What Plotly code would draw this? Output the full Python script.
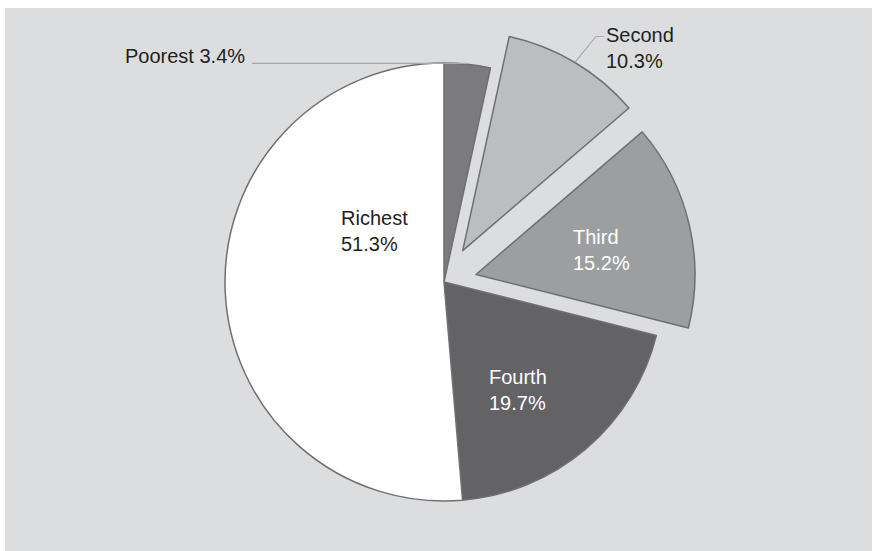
import math
import plotly.graph_objects as go

# Share of total by wealth quintile (clockwise from 12 o'clock)
groups = ["Poorest", "Second", "Third", "Fourth", "Richest"]
shares = [3.4, 10.3, 15.2, 19.7, 51.3]
pulls = [0.0, 0.167, 0.15, 0.0, 0.0]
colors = ["#7b7b7d", "#bcbdc0", "#9d9ea0", "#636264", "#ffffff"]

W, H = 873, 551
CX, CY, R = 444, 282, 219          # pie centre and radius, pixels
FONT = "Liberation Sans, Arial, sans-serif"
FS = 20


def px(x, y):
    """Pixel position -> paper coordinates (figure has zero margins)."""
    return x / W, 1 - y / H


# Domain sized so that plotly's radius = min(half box) / (1 + max pull) equals R
half = R * (1 + max(pulls))
dom_y = [1 - (CY + half) / H, 1 - (CY - half) / H]
dom_x = [(CX - half - 60) / W, (CX + half + 60) / W]

# Slice angles (degrees clockwise from the top)
total = sum(shares)
mids = []
acc = 0.0
for s in shares:
    mids.append((acc + s / 2) / total * 360)
    acc += s


def arc_point(i, frac=1.0):
    a = math.radians(mids[i])
    ox = CX + pulls[i] * R * math.sin(a)
    oy = CY - pulls[i] * R * math.cos(a)
    return ox + frac * R * math.sin(a), oy - frac * R * math.cos(a)


fig = go.Figure(
    go.Pie(
        labels=groups,
        values=shares,
        pull=pulls,
        sort=False,
        direction="clockwise",
        rotation=0,
        textinfo="none",
        hoverinfo="label+value",
        marker=dict(colors=colors, line=dict(color="#6f6f71", width=1.5)),
        domain=dict(x=dom_x, y=dom_y),
        showlegend=False,
    )
)

# Grey panel behind the chart
x0, y0 = px(5, 8)
x1, y1 = px(872, 551)
shapes = [
    dict(type="rect", xref="paper", yref="paper", x0=x0, y0=y1, x1=x1, y1=y0,
         fillcolor="#dcdddf", line=dict(width=0), layer="below")
]

# Leader line for the smallest slice: horizontal run to the slice's arc
pxm, pym = arc_point(0)
lx0, ly = px(252, pym - 0.8)
lx1, _ = px(pxm, pym)
shapes.append(dict(type="line", xref="paper", yref="paper", x0=lx0, y0=ly, x1=lx1, y1=ly,
                   line=dict(color="#a9a9ab", width=1.2)))

# Leader line for the second quintile: from the arc out to an elbow, then across
sx, sy = arc_point(1)
ex, ey = sx + 21, sy - 26
path_pts = [px(sx, sy), px(ex, ey), px(ex + 8, ey)]
path = "M {} {} L {} {} L {} {}".format(*[v for p in path_pts for v in p])
shapes.append(dict(type="path", xref="paper", yref="paper", path=path,
                   line=dict(color="#a9a9ab", width=1.2)))

# Label anchors in pixels: (x, y, xanchor, colour)
label_pos = {
    "Poorest": (247, 56, "right", "#231f20"),
    "Second": (604, 48, "left", "#231f20"),
    "Third": (571, 250, "left", "#ffffff"),
    "Fourth": (487, 390, "left", "#ffffff"),
    "Richest": (339, 231, "left", "#231f20"),
}

annotations = []
for g, v in zip(groups, shares):
    x, y, anchor, col = label_pos[g]
    ax_, ay_ = px(x, y)
    sep = " " if g == "Poorest" else "<br>"
    annotations.append(dict(
        x=ax_, y=ay_, xref="paper", yref="paper", showarrow=False,
        text=f"{g}{sep}{v:.1f}%", xanchor=anchor, yanchor="middle", align="left",
        font=dict(family=FONT, size=FS, color=col),
    ))

fig.update_layout(
    width=W, height=H,
    margin=dict(l=0, r=0, t=0, b=0),
    paper_bgcolor="#ffffff",
    plot_bgcolor="#ffffff",
    shapes=shapes,
    annotations=annotations,
    font=dict(family=FONT, size=FS),
)

fig.write_html("out.html")
